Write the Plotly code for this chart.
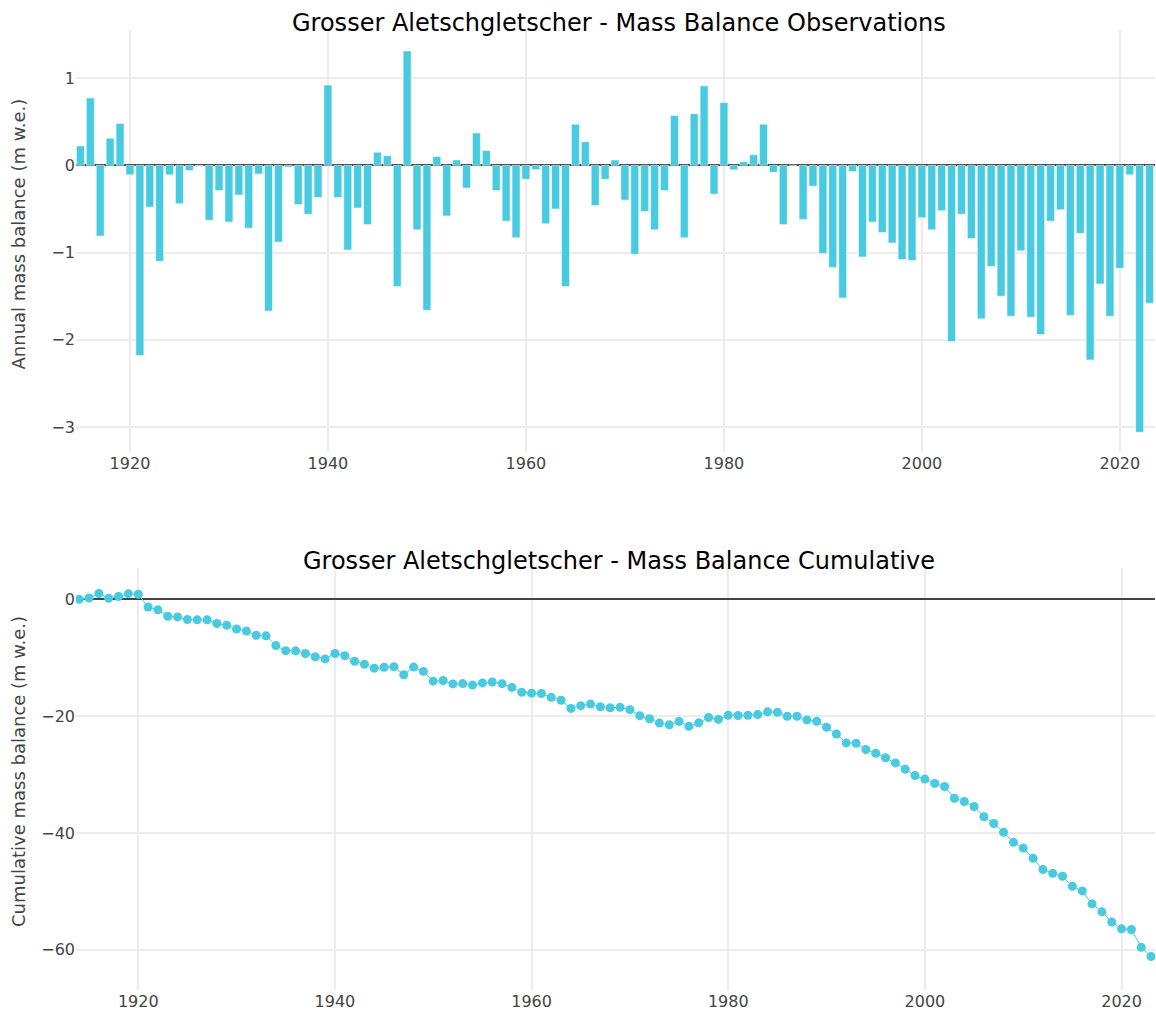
import plotly.graph_objects as go
from plotly.subplots import make_subplots

# ---- data ----
years_annual = list(range(1915, 2024))
annual_balance = [
    0.22, 0.77, -0.81, 0.31, 0.48, -0.11, -2.18, -0.48, -1.10, -0.11,   # 1915-1924
    -0.44, -0.06, -0.01, -0.63, -0.29, -0.65, -0.34, -0.72, -0.10, -1.67,  # 1925-1934
    -0.88, -0.02, -0.45, -0.56, -0.37, 0.92, -0.37, -0.97, -0.49, -0.68,   # 1935-1944
    0.15, 0.11, -1.39, 1.31, -0.74, -1.66, 0.10, -0.58, 0.06, -0.26,       # 1945-1954
    0.37, 0.17, -0.29, -0.64, -0.83, -0.16, -0.05, -0.67, -0.50, -1.39,    # 1955-1964
    0.47, 0.27, -0.46, -0.16, 0.06, -0.40, -1.02, -0.53, -0.74, -0.29,     # 1965-1974
    0.57, -0.83, 0.59, 0.91, -0.33, 0.72, -0.05, 0.04, 0.12, 0.47,         # 1975-1984
    -0.08, -0.68, 0.00, -0.62, -0.24, -1.01, -1.17, -1.52, -0.07, -1.05,   # 1985-1994
    -0.65, -0.77, -0.89, -1.08, -1.09, -0.60, -0.74, -0.52, -2.02, -0.56,  # 1995-2004
    -0.84, -1.76, -1.16, -1.50, -1.73, -0.98, -1.74, -1.94, -0.64, -0.51,  # 2005-2014
    -1.72, -0.78, -2.23, -1.36, -1.73, -1.18, -0.11, -3.06, -1.58,         # 2015-2023
]

years_cumulative = list(range(1914, 2024))
cumulative_balance = [
    0.00,                                                                   # 1914
    0.22, 0.99, 0.18, 0.49, 0.97, 0.86, -1.32, -1.80, -2.90, -3.01,         # 1915-1924
    -3.45, -3.51, -3.52, -4.15, -4.44, -5.09, -5.43, -6.15, -6.25, -7.92,   # 1925-1934
    -8.80, -8.82, -9.27, -9.83, -10.20, -9.28, -9.65, -10.62, -11.11, -11.79,  # 1935-1944
    -11.64, -11.53, -12.92, -11.61, -12.35, -14.01, -13.91, -14.49, -14.43, -14.69,  # 1945-1954
    -14.32, -14.15, -14.44, -15.08, -15.91, -16.07, -16.12, -16.79, -17.29, -18.68,  # 1955-1964
    -18.21, -17.94, -18.40, -18.56, -18.50, -18.90, -19.92, -20.45, -21.19, -21.48,  # 1965-1974
    -20.91, -21.74, -21.15, -20.24, -20.57, -19.85, -19.90, -19.86, -19.74, -19.27,  # 1975-1984
    -19.35, -20.03, -20.03, -20.65, -20.89, -21.90, -23.07, -24.59, -24.66, -25.71,  # 1985-1994
    -26.36, -27.13, -28.02, -29.10, -30.19, -30.79, -31.53, -32.05, -34.07, -34.63,  # 1995-2004
    -35.47, -37.23, -38.39, -39.89, -41.62, -42.60, -44.34, -46.28, -46.92, -47.43,  # 2005-2014
    -49.15, -49.93, -52.16, -53.52, -55.25, -56.43, -56.54, -59.60, -61.18,          # 2015-2023
]

title_top = "Grosser Aletschgletscher - Mass Balance Observations"
title_bottom = "Grosser Aletschgletscher - Mass Balance Cumulative"
ytitle_top = "Annual mass balance (m w.e.)"
ytitle_bottom = "Cumulative mass balance (m w.e.)"

COLOR = "#48cae0"
FONT = "Verdana, DejaVu Sans, sans-serif"

W, H = 1156, 1016
ML, MR, MT, MB = 76, 1, 30, 26

fig = make_subplots(rows=2, cols=1, vertical_spacing=0.12,
                    subplot_titles=(title_top, title_bottom))

fig.add_trace(go.Bar(x=years_annual, y=annual_balance,
                     marker=dict(color=COLOR, line=dict(color="white", width=0.5)),
                     showlegend=False), row=1, col=1)

fig.add_trace(go.Scatter(x=years_cumulative, y=cumulative_balance,
                         mode="lines+markers",
                         marker=dict(color=COLOR, size=9),
                         line=dict(color=COLOR, width=1),
                         showlegend=False), row=2, col=1)

axis_common = dict(showgrid=True, gridcolor="#ececec", gridwidth=2,
                   zeroline=False, showline=False, ticks="", automargin=False,
                   tickfont=dict(family=FONT, size=16, color="#444"))

fig.update_xaxes(**axis_common, dtick=20)
fig.update_yaxes(**axis_common)

fig.update_xaxes(range=[1914.55, 2023.55], row=1, col=1)
fig.update_xaxes(range=[1913.67, 2023.4], row=2, col=1)
fig.update_yaxes(range=[-3.29, 1.55], dtick=1, zeroline=True,
                 zerolinecolor="#444", zerolinewidth=1.5, row=1, col=1)
fig.update_yaxes(range=[-66.9, 5.43], dtick=20, zeroline=True,
                 zerolinecolor="#444", zerolinewidth=1.5, row=2, col=1)

for ann in fig.layout.annotations:
    ann.font = dict(family=FONT, size=24, color="black")
    ann.yshift = -9
    ann.xshift = 3

# y-axis titles placed at the reference's pixel positions
plot_w = W - ML - MR
plot_h = H - MT - MB
def px_to_paper_x(px):
    return (px - ML) / plot_w
def px_to_paper_y(py):
    return (H - MB - py) / plot_h

for text, py in ((ytitle_top, 234.5), (ytitle_bottom, 772)):
    fig.add_annotation(text=text, xref="paper", yref="paper",
                       x=px_to_paper_x(18), y=px_to_paper_y(py),
                       xanchor="center", yanchor="middle", textangle=-90,
                       showarrow=False,
                       font=dict(family=FONT, size=18, color="#444"))

fig.update_layout(
    width=W, height=H,
    template="plotly_white",
    plot_bgcolor="white", paper_bgcolor="white",
    margin=dict(l=ML, r=MR, t=MT, b=MB, autoexpand=False),
    bargap=0.2,
    showlegend=False,
    hovermode=False,
    font=dict(family=FONT, color="#444"),
)

fig.write_html(
    "out.html",
    config={"displayModeBar": False},
    post_script="document.body.style.margin='0px';"
                "document.documentElement.style.overflow='hidden';",
)
